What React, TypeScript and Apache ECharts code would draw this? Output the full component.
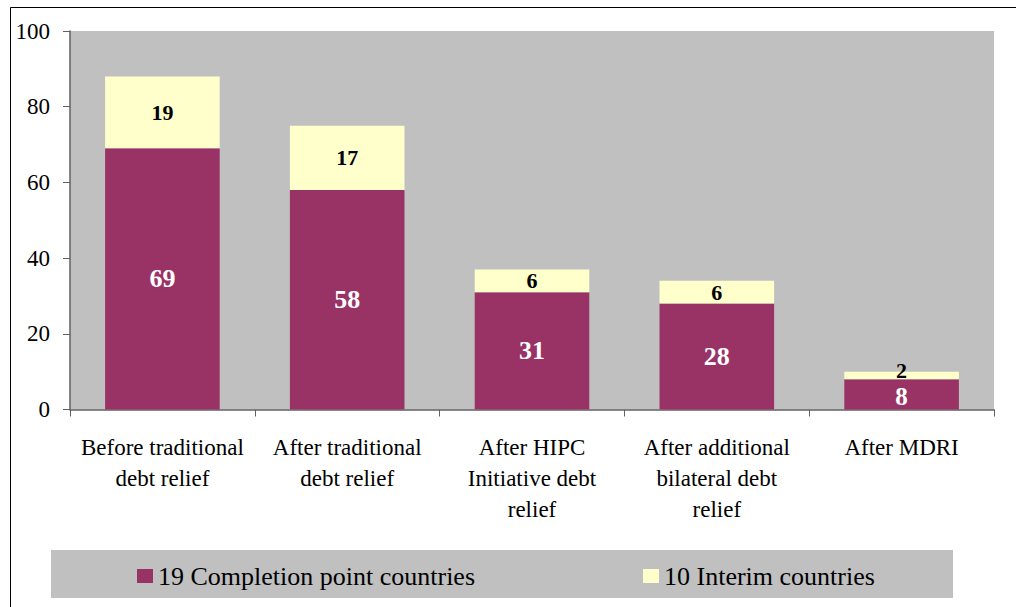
import React, { useEffect, useRef } from "react";
import * as echarts from "echarts";

const categories = [
  "Before traditional\ndebt relief",
  "After traditional\ndebt relief",
  "After HIPC\nInitiative debt\nrelief",
  "After additional\nbilateral debt\nrelief",
  "After MDRI",
];
const completionValues = [69, 58, 31, 28, 8];
const interimValues = [19, 17, 6, 6, 2];
const seriesNames = ["19 Completion point countries", "10 Interim countries"];
const yTicks = { min: 0, max: 100, interval: 20 };

const FONT = "Liberation Serif";

export default function App() {
  const ref = useRef<HTMLDivElement>(null);
  useEffect(() => {
    if (!ref.current) return;
    const chart = echarts.init(ref.current, undefined, { renderer: "svg" });
    const last = completionValues.length - 1;
    const completionData = completionValues.map((v, i) =>
      i === last ? { value: v, label: { offset: [0, 2], fontSize: 25 } } : v
    );
    const interimData = interimValues.map((v, i) =>
      i === last ? { value: v, label: { offset: [0, -5] } } : v
    );
    chart.setOption({
      animation: false,
      backgroundColor: "#ffffff",
      textStyle: { fontFamily: FONT },
      grid: {
        left: 70,
        right: 22,
        top: 31,
        bottom: 197.5,
        show: true,
        backgroundColor: "#c0c0c0",
        borderWidth: 0,
        containLabel: false,
      },
      graphic: [
        {
          type: "rect",
          shape: { x: 10.5, y: 7.5, width: 1200, height: 800 },
          style: { fill: "none", stroke: "#000000", lineWidth: 1 },
          silent: true,
          z: 0,
        },
        {
          type: "rect",
          shape: { x: 51, y: 550, width: 902, height: 48 },
          style: { fill: "#c0c0c0" },
          silent: true,
          z: 0,
        },
      ],
      legend: [
        {
          data: [seriesNames[0]],
          left: 137,
          top: 562,
          padding: 0,
          icon: "rect",
          itemWidth: 16,
          itemHeight: 14,
          textStyle: { fontFamily: FONT, fontSize: 26, color: "#000", lineHeight: 28 },
        },
        {
          data: [seriesNames[1]],
          left: 643,
          top: 562,
          padding: 0,
          icon: "rect",
          itemWidth: 16,
          itemHeight: 14,
          textStyle: { fontFamily: FONT, fontSize: 26, color: "#000", lineHeight: 28 },
        },
      ],
      xAxis: {
        type: "category",
        data: categories,
        axisLine: { show: true, lineStyle: { color: "#606060", width: 1.5 } },
        axisTick: { show: true, length: 7, lineStyle: { color: "#606060" } },
        axisLabel: {
          interval: 0,
          margin: 22,
          fontFamily: FONT,
          fontSize: 23,
          lineHeight: 31,
          color: "#000",
        },
      },
      yAxis: {
        type: "value",
        min: yTicks.min,
        max: yTicks.max,
        interval: yTicks.interval,
        splitLine: { show: false },
        axisLine: { show: true, lineStyle: { color: "#606060", width: 1.5 } },
        axisTick: { show: true, length: 7, lineStyle: { color: "#606060" } },
        axisLabel: { margin: 20, fontFamily: FONT, fontSize: 23, color: "#000" },
      },
      series: [
        {
          name: seriesNames[0],
          type: "bar",
          stack: "total",
          data: completionData,
          barCategoryGap: "38%",
          itemStyle: { color: "#993366" },
          label: {
            show: true,
            position: "inside",
            fontFamily: FONT,
            fontSize: 26,
            lineHeight: 20,
            fontWeight: "bold",
            color: "#ffffff",
          },
        },
        {
          name: seriesNames[1],
          type: "bar",
          stack: "total",
          data: interimData,
          barCategoryGap: "38%",
          itemStyle: { color: "#ffffcc" },
          label: {
            show: true,
            position: "inside",
            fontFamily: FONT,
            fontSize: 22,
            lineHeight: 17,
            fontWeight: "bold",
            color: "#000000",
          },
        },
      ],
    });
    return () => chart.dispose();
  }, []);
  return (
    <div
      ref={ref}
      style={{ position: "fixed", left: 0, top: 0, width: 1016, height: 607 }}
    />
  );
}
